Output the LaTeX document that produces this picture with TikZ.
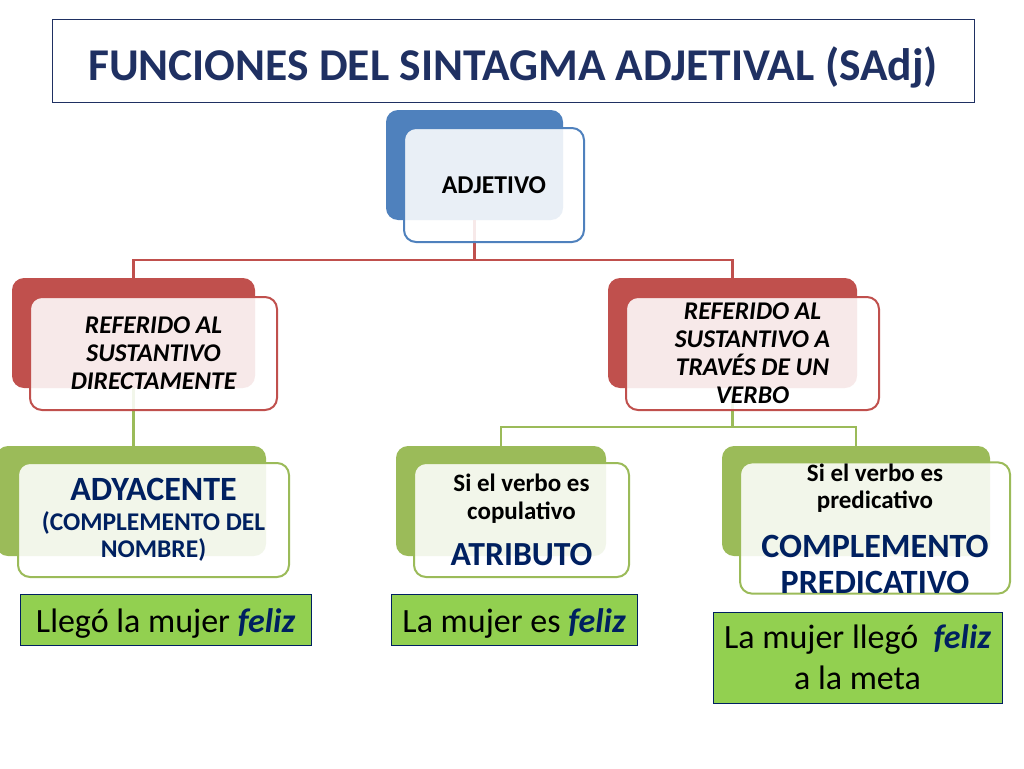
\documentclass[tikz,border=0pt]{standalone}
\usepackage{fontspec}
\setmainfont{Carlito}
\definecolor{titleblue}{RGB}{31,48,98}
\definecolor{navy}{RGB}{0,32,96}
\definecolor{adjblue}{RGB}{79,129,189}
\definecolor{refred}{RGB}{192,80,77}
\definecolor{funcgreen}{RGB}{155,187,89}
\definecolor{examplegreen}{RGB}{146,208,80}

\begin{document}
\begin{tikzpicture}
      [x=1pt, y=-1pt,
        backbox/.style={rounded corners=12pt, fill=#1, inner sep=0pt},
        frontbox/.style={rounded corners=12pt, draw=#1, line width=2pt, fill=white,
          fill opacity=.88, text opacity=1, inner sep=0pt, align=center},
        link/.style={draw=#1, line width=2.5pt},
        example/.style={draw=navy, line width=1pt, fill=examplegreen, inner sep=0pt,
          align=center, font=\fontsize{34}{41}\selectfont}]
      \useasboundingbox (0,0) rectangle (1024,768);
      % titulo
      \node[draw=titleblue, line width=1pt, minimum width=922pt, minimum height=82pt,
        text=titleblue, font=\bfseries\fontsize{45.5}{50}\selectfont] (titulo) at (513,61)
        {\raisebox{-6pt}[\height][\depth]{FUNCIONES DEL SINTAGMA ADJETIVAL (SAdj)}};
      % fondos
      \node[backbox=adjblue, minimum width=177pt, minimum height=110pt] (adjB) at (474.5,165) {};
      \node[backbox=refred, minimum width=243pt, minimum height=110pt] (refdB) at (133.5,333) {};
      \node[backbox=refred, minimum width=249pt, minimum height=110pt] (reftB) at (732.5,333) {};
      \node[backbox=funcgreen, minimum width=270pt, minimum height=110pt] (adyB) at (131,501) {};
      \node[backbox=funcgreen, minimum width=210pt, minimum height=110pt] (atrB) at (501,501) {};
      \node[backbox=funcgreen, minimum width=268pt, minimum height=110pt] (cprB) at (856,501) {};
      % conectores
      \draw[link=refred] (adjB.south) -- ++(0,40) -| (refdB.north);
      \draw[link=refred] (adjB.south) -- ++(0,40) -| (reftB.north);
      \draw[link=funcgreen] (refdB.south) -- (refdB.south |- adyB.north);
      \draw[link=funcgreen] (reftB.south) -- ++(0,39) -| (atrB.north);
      \draw[link=funcgreen] (reftB.south) -- ++(0,39) -| (cprB.north);
      % frentes
      \node[frontbox=adjblue, minimum width=180pt, minimum height=114pt,
        font=\bfseries\fontsize{25.7}{30}\selectfont] (adjF) at (494,185) {ADJETIVO};
      \node[frontbox=refred, minimum width=247pt, minimum height=113pt,
        font=\bfseries\itshape\fontsize{25.5}{28}\selectfont] (refdF) at (153.5,353.5)
        {REFERIDO AL\\SUSTANTIVO\\DIRECTAMENTE};
      \node[frontbox=refred, minimum width=253pt, minimum height=113pt,
        font=\bfseries\itshape\fontsize{25.5}{28}\selectfont] (reftF) at (752.5,353.5)
        {REFERIDO AL\\SUSTANTIVO A\\TRAVÉS DE UN\\VERBO};
      \node[frontbox=funcgreen, minimum width=271pt, minimum height=114pt, text=navy,
        font=\bfseries\fontsize{25.5}{27}\selectfont] (adyF) at (153.5,520)
        {{\fontsize{34}{36}\selectfont ADYACENTE}\\[3pt](COMPLEMENTO DEL\\NOMBRE)};
      \node[frontbox=funcgreen, minimum width=215pt, minimum height=114pt,
        font=\bfseries\fontsize{25}{28}\selectfont] (atrF) at (521.5,520)
        {Si el verbo es\\copulativo\\[18pt]{\fontsize{33.7}{36}\selectfont\color{navy}ATRIBUTO}};
      \node[frontbox=funcgreen, minimum width=270pt, minimum height=130pt,
        font=\bfseries\fontsize{25}{27}\selectfont] (cprF) at (875,528)
        {\\[-8pt]Si el verbo es\\predicativo\\[22pt]{\fontsize{34}{36}\selectfont\color{navy}COMPLEMENTO}\\[9pt]
         {\fontsize{34}{36}\selectfont\color{navy}PREDICATIVO}};
      % ejemplos
      \node[example, minimum width=291pt, minimum height=51pt] (ejAdy) at (165.5,619.5)
        {\raisebox{-4pt}[\height][\depth]{Llegó la mujer \textbf{\textit{\color{navy}feliz}}}};
      \node[example, minimum width=246pt, minimum height=51pt] (ejAtr) at (514,619.5)
        {\raisebox{-4pt}[\height][\depth]{La mujer es \textbf{\textit{\color{navy}feliz}}}};
      \node[example, minimum width=289pt, minimum height=91pt] (ejCpr) at (857.5,657.5)
        {La mujer llegó\ \ \textbf{\textit{\color{navy}feliz}}\\a la meta};
    \end{tikzpicture}
\end{document}
